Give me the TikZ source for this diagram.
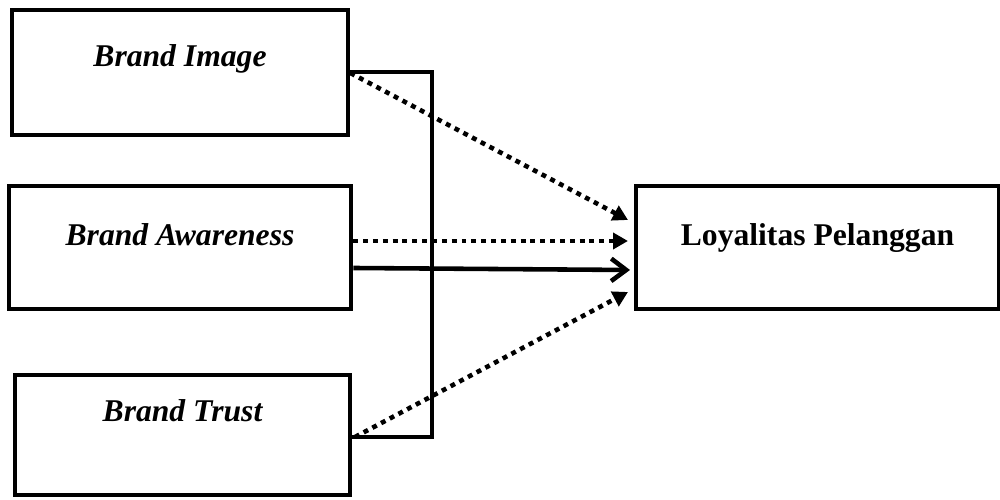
\documentclass[tikz,border=0pt]{standalone}
\usepackage{fontspec}
\setmainfont{Liberation Serif}
\usetikzlibrary{arrows.meta}
\tikzset{
  box/.style={draw, line width=2.6pt, inner sep=0pt, font=\fontsize{18}{22}\selectfont\bfseries\itshape},
  dotarrow/.style={line width=2.6pt, dash pattern=on 2.8pt off 2.8pt, -{Triangle[length=0.3cm,width=0.32cm]}},
}
\begin{document}
\begin{tikzpicture}
\useasboundingbox (0,0) rectangle (20,10);
\node[box, anchor=base, minimum width=6.72cm, text height=1.14cm, text depth=1.36cm] (img) at (3.6,8.66) {Brand Image};
\node[box, anchor=base, minimum width=6.84cm, text height=1.2cm, text depth=1.26cm] (aware) at (3.6,5.08) {Brand Awareness};
\node[box, anchor=base, minimum width=6.7cm, text height=0.94cm, text depth=1.46cm] (trust) at (3.65,1.56) {Brand Trust};
\node[box, anchor=base, minimum width=7.26cm, text height=1.2cm, text depth=1.26cm, font=\fontsize{18}{22}\selectfont\bfseries] (loyal) at (16.35,5.08) {Loyalitas Pelanggan};
% simultaneous path
\coordinate (brk) at (8.64,0);
\draw[line width=2.6pt] (img.east |- 0,8.56) -| (brk |- 0,1.26) -- (trust.east |- 0,1.26);
\draw[line width=2.6pt, -{Straight Barb[length=0.3cm,width=0.45cm]}] (aware.east |- 0,4.64) -- (12.6,4.6);
% partial paths
\draw[dotarrow] (img.east |- 0,8.54) -- (12.56,5.6);
\draw[dotarrow] (aware.east |- 0,5.18) -- (12.56,5.18);
\draw[dotarrow] (7.1,1.26) -- (12.56,4.16);
\end{tikzpicture}
\end{document}
